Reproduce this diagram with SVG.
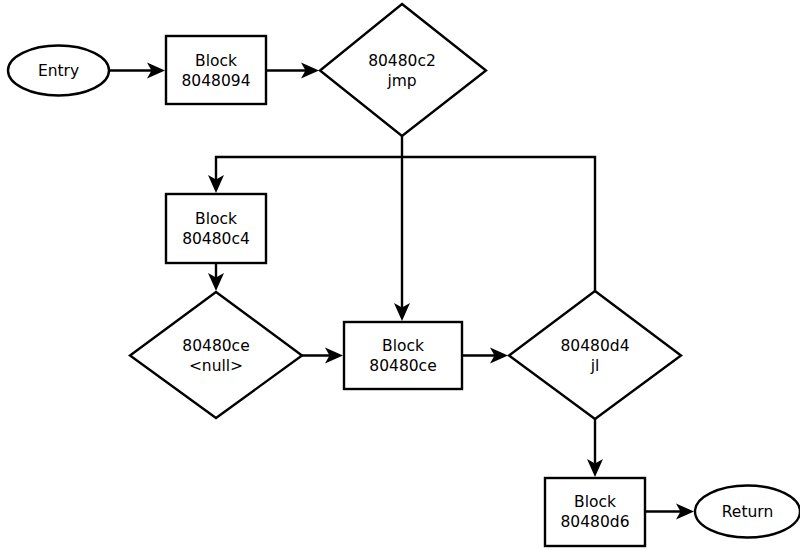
<svg xmlns="http://www.w3.org/2000/svg" width="800" height="550" viewBox="0 0 800 550">
  <style>
    .shape { fill: #ffffff; stroke: #000000; stroke-width: 2.4; }
    .edge { fill: none; stroke: #000000; stroke-width: 2.4; }
    .label { font-family: "DejaVu Sans", "Liberation Sans", sans-serif; font-size: 15.5px; fill: #000000; text-anchor: middle; }
  </style>
  <defs>
    <!-- edge paths stop 5px short of the target; the head reaches the outline -->
    <marker id="arrow" viewBox="-20 -10 21 20" refX="-5" refY="0" markerWidth="21" markerHeight="20" markerUnits="userSpaceOnUse" orient="auto">
      <path d="M0,0 L-18,-8 L-13.5,0 L-18,8 Z" fill="#000000"/>
    </marker>
  </defs>
  <rect width="800" height="550" fill="#ffffff"/>

  <!-- control-flow edges -->
  <g id="edges">
    <path class="edge" d="M109,70.5 L160,70.5" marker-end="url(#arrow)"/>
    <path class="edge" d="M266,70.5 L314,70.5" marker-end="url(#arrow)"/>
    <path class="edge" d="M402,136 L402,316" marker-end="url(#arrow)"/>
    <path class="edge" d="M595,291 L595,157 L216,157 L216,188" marker-end="url(#arrow)"/>
    <path class="edge" d="M216,263 L216,286" marker-end="url(#arrow)"/>
    <path class="edge" d="M302,355.5 L338,355.5" marker-end="url(#arrow)"/>
    <path class="edge" d="M462,355.5 L503,355.5" marker-end="url(#arrow)"/>
    <path class="edge" d="M595,419 L595,472" marker-end="url(#arrow)"/>
    <path class="edge" d="M645,511.5 L689,511.5" marker-end="url(#arrow)"/>
  </g>

  <g id="entry">
    <ellipse class="shape" cx="58.5" cy="70.5" rx="50.5" ry="25"/>
    <text class="label" x="58.5" y="76">Entry</text>
  </g>

  <g id="block-8048094">
    <rect class="shape" x="166" y="36" width="100" height="68"/>
    <text class="label" x="216" y="66">Block</text>
    <text class="label" x="216" y="86">8048094</text>
  </g>

  <g id="cond-80480c2">
    <polygon class="shape" points="402,4 486,70.5 402,136 320,70.5"/>
    <text class="label" x="402" y="66">80480c2</text>
    <text class="label" x="402" y="86">jmp</text>
  </g>

  <g id="block-80480c4">
    <rect class="shape" x="166" y="194" width="100" height="69"/>
    <text class="label" x="216" y="224">Block</text>
    <text class="label" x="216" y="244">80480c4</text>
  </g>

  <g id="cond-80480ce">
    <polygon class="shape" points="216,292 302,355.5 216,418 130,355.5"/>
    <text class="label" x="216" y="351">80480ce</text>
    <text class="label" x="216" y="371">&lt;null&gt;</text>
  </g>

  <g id="block-80480ce">
    <rect class="shape" x="344" y="322" width="118" height="67"/>
    <text class="label" x="403" y="351">Block</text>
    <text class="label" x="403" y="371">80480ce</text>
  </g>

  <g id="cond-80480d4">
    <polygon class="shape" points="595,291 681,355.5 595,419 509,355.5"/>
    <text class="label" x="595" y="351">80480d4</text>
    <text class="label" x="595" y="371">jl</text>
  </g>

  <g id="block-80480d6">
    <rect class="shape" x="545" y="478" width="100" height="68"/>
    <text class="label" x="595" y="507">Block</text>
    <text class="label" x="595" y="527">80480d6</text>
  </g>

  <g id="return">
    <ellipse class="shape" cx="747.5" cy="511.5" rx="52.5" ry="26"/>
    <text class="label" x="747.5" y="517">Return</text>
  </g>
</svg>
